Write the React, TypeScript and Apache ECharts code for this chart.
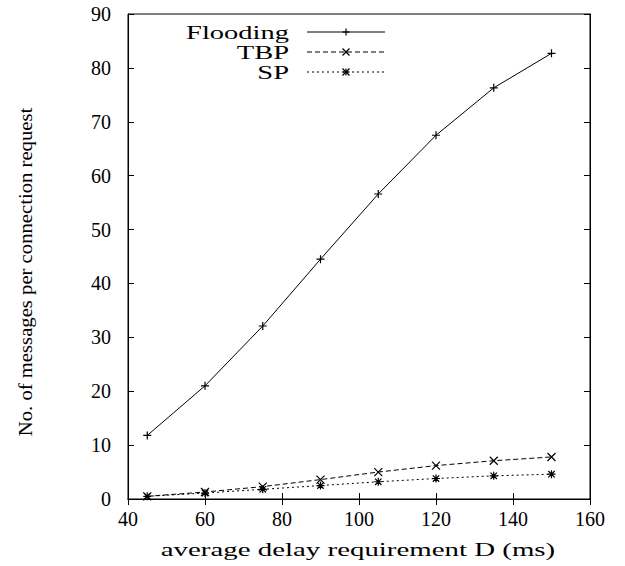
import React, { useEffect, useRef } from "react";
import * as echarts from "echarts";

const delays = [45, 60, 75, 90, 105, 120, 135, 150];
const flooding = [11.8, 21.0, 32.1, 44.5, 56.6, 67.5, 76.3, 82.7];
const tbp = [0.5, 1.3, 2.3, 3.6, 5.0, 6.2, 7.1, 7.8];
const sp = [0.5, 1.1, 1.8, 2.5, 3.2, 3.8, 4.3, 4.6];

const seriesNames = ["Flooding", "TBP", "SP"];
const xTitle = "average delay requirement D (ms)";
const yTitle = "No. of messages per connection request";

const FONT = "'Liberation Serif', 'Times New Roman', serif";

const plusPath = "path://M0,5 L10,5 M5,0 L5,10";
const crossPath = "path://M1,1 L9,9 M9,1 L1,9";
const starPath = "path://M0,5 L10,5 M5,0 L5,10 M1,1 L9,9 M9,1 L1,9";

function pairs(ys: number[]) {
  return delays.map((d, i) => [d, ys[i]]);
}

export default function App() {
  const ref = useRef<HTMLDivElement>(null);

  useEffect(() => {
    if (!ref.current) return;
    const chart = echarts.init(ref.current, null, { renderer: "svg" });

    const lineStyles = [
      { type: "solid" as const },
      { type: [5, 3] as any },
      { type: [2, 3] as any },
    ];
    const symbols = [plusPath, crossPath, starPath];
    const sets = [flooding, tbp, sp];

    // legend: label right-aligned, then a line sample with its marker
    const legendRows = [32, 52, 72];
    const legendGraphics: any[] = [];
    seriesNames.forEach((name, i) => {
      const y = legendRows[i];
      legendGraphics.push({
        type: "text",
        x: 289,
        y,
        originX: 0,
        originY: 0,
        scaleX: 1.5,
        style: {
          text: name,
          font: `19px ${FONT}`,
          fill: "#000",
          align: "right",
          verticalAlign: "middle",
        },
      });
      legendGraphics.push({
        type: "line",
        shape: { x1: 307, y1: y, x2: 385, y2: y },
        style: {
          stroke: "#000",
          lineWidth: 1,
          lineDash: i === 0 ? null : i === 1 ? [5, 3] : [2, 3],
        },
      });
      const cx = 346;
      const r = 3.5;
      const segs: number[][] = [];
      if (i === 0 || i === 2) {
        segs.push([cx - r, y, cx + r, y], [cx, y - r, cx, y + r]);
      }
      if (i === 1 || i === 2) {
        segs.push([cx - r, y - r, cx + r, y + r], [cx + r, y - r, cx - r, y + r]);
      }
      segs.forEach((s) =>
        legendGraphics.push({
          type: "line",
          shape: { x1: s[0], y1: s[1], x2: s[2], y2: s[3] },
          style: { stroke: "#000", lineWidth: 1.2 },
        })
      );
    });

    const tickStyle = { show: true, inside: true, length: 6, lineStyle: { color: "#000" } };

    chart.setOption({
      animation: false,
      backgroundColor: "#fff",
      grid: {
        left: 128,
        right: 35,
        top: 14,
        bottom: 67,
        show: true,
        borderColor: "#000",
        borderWidth: 1,
      },
      xAxis: [
        {
          type: "value",
          min: 40,
          max: 160,
          interval: 20,
          axisLine: { show: true, lineStyle: { color: "#000" } },
          axisTick: tickStyle,
          axisLabel: { color: "#000", fontFamily: FONT, fontSize: 20, margin: 10 },
          splitLine: { show: false },
        },
        {
          type: "value",
          position: "top",
          min: 40,
          max: 160,
          interval: 20,
          axisLine: { show: true, lineStyle: { color: "#000" } },
          axisTick: tickStyle,
          axisLabel: { show: false },
          splitLine: { show: false },
        },
      ],
      yAxis: [
        {
          type: "value",
          min: 0,
          max: 90,
          interval: 10,
          axisLine: { show: true, lineStyle: { color: "#000" } },
          axisTick: tickStyle,
          axisLabel: { color: "#000", fontFamily: FONT, fontSize: 20, margin: 17 },
          splitLine: { show: false },
        },
        {
          type: "value",
          position: "right",
          min: 0,
          max: 90,
          interval: 10,
          axisLine: { show: true, lineStyle: { color: "#000" } },
          axisTick: tickStyle,
          axisLabel: { show: false },
          splitLine: { show: false },
        },
      ],
      graphic: [
        {
          type: "text",
          x: 358,
          y: 549,
          originX: 0,
          originY: 0,
          scaleX: 1.52,
          style: {
            text: xTitle,
            font: `19px ${FONT}`,
            fill: "#000",
            align: "center",
            verticalAlign: "middle",
          },
        },
        {
          type: "text",
          x: 26,
          y: 272,
          originX: 0,
          originY: 0,
          rotation: Math.PI / 2,
          scaleX: 1.15,
          style: {
            text: yTitle,
            font: `18px ${FONT}`,
            fill: "#000",
            align: "center",
            verticalAlign: "middle",
          },
        },
        ...legendGraphics,
      ],
      series: sets.map((ys, i) => ({
        name: seriesNames[i],
        type: "line",
        data: pairs(ys),
        symbol: symbols[i],
        symbolSize: 8,
        showSymbol: true,
        lineStyle: { color: "#000", width: 1, ...lineStyles[i] },
        itemStyle: { color: "#000", borderColor: "#000", borderWidth: 1.2 },
      })),
    });

    return () => chart.dispose();
  }, []);

  return (
    <div
      ref={ref}
      style={{ position: "fixed", left: 0, top: 0, width: 625, height: 566 }}
    />
  );
}
